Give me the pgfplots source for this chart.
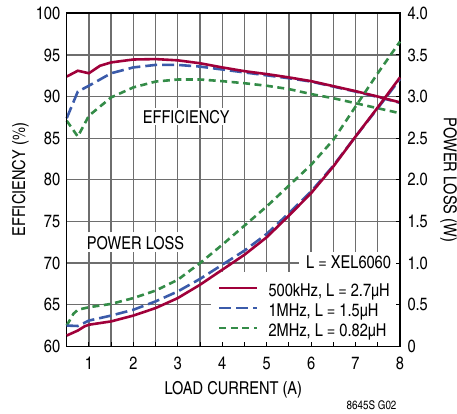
\documentclass[border=0pt]{standalone}
\usepackage{fontspec}
\setmainfont{texgyreheroscn-regular.otf}
\usepackage{pgfplots}
\pgfplotsset{compat=1.18}
\definecolor{c500}{HTML}{A0003A}
\definecolor{c1m}{HTML}{3B5BAA}
\definecolor{c2m}{HTML}{348C48}
\definecolor{gridc}{HTML}{6E6E6E}
\newcommand{\fs}{\fontsize{17.8}{20}\selectfont}
\tikzset{gl/.style={draw=gridc, line width=1.3pt}}

\pgfplotsset{
  common/.style={
    scale only axis, width=333.6pt, height=333.4pt,
    xmin=0.5, xmax=8, clip=false,
    xtick={0.5,1,...,8},
    tick align=inside, major tick length=4pt,
    tick style={black, line width=0.9pt},
    /pgf/number format/assume math mode=true,
    ticklabel style={font=\fs},
    axis line style={line width=1.6pt},
  },
  s500/.style={c500, line width=2.6pt},
  s1m/.style={c1m, line width=2.6pt, dash pattern=on 12pt off 5pt},
  s2m/.style={c2m, line width=2.6pt, dash pattern=on 7pt off 4.5pt},
}

\begin{document}
\begin{tikzpicture}
% efficiency, left axis, with the grid
\begin{axis}[common,
  ymin=60, ymax=100, ytick={60,65,...,100},
  xticklabels={,1,,2,,3,,4,,5,,6,,7,,8},
  ytick pos=left, xtick pos=bottom,
  xticklabel style={yshift=-7pt}, yticklabel style={xshift=-3pt},
]
% grid lines every 0.5 A and every 5 %, broken round the labels and the legend
\pgfplotsinvokeforeach{1,1.5,2}{
  \draw[gl] (axis cs:#1,60) -- (axis cs:#1,71.3);
  \draw[gl] (axis cs:#1,73.7) -- (axis cs:#1,100);
}
\pgfplotsinvokeforeach{2.5,3}{
  \draw[gl] (axis cs:#1,60) -- (axis cs:#1,71.3);
  \draw[gl] (axis cs:#1,73.7) -- (axis cs:#1,86.56);
  \draw[gl] (axis cs:#1,88.64) -- (axis cs:#1,100);
}
\draw[gl] (axis cs:3.5,60) -- (axis cs:3.5,86.56);
\draw[gl] (axis cs:3.5,88.64) -- (axis cs:3.5,100);
\draw[gl] (axis cs:4,68.96) -- (axis cs:4,86.56);
\draw[gl] (axis cs:4,88.64) -- (axis cs:4,100);
\pgfplotsinvokeforeach{4.5,5,5.5}{
  \draw[gl] (axis cs:#1,68.96) -- (axis cs:#1,100);
}
\pgfplotsinvokeforeach{6,6.5,7,7.5}{
  \draw[gl] (axis cs:#1,71.36) -- (axis cs:#1,100);
}
\draw[gl] (axis cs:0.5,65) -- (axis cs:3.747,65);
\draw[gl] (axis cs:0.5,70) -- (axis cs:5.727,70);
\pgfplotsinvokeforeach{75,80,85,90,95}{
  \draw[gl] (axis cs:0.5,#1) -- (axis cs:8,#1);
}
\node[inner sep=0pt, anchor=base west, font=\fs] at (axis cs:2.21,86.8) {EFFICIENCY};
\node[inner sep=0pt, anchor=base west, font=\fs] at (axis cs:0.95,71.6) {POWER LOSS};

\addplot[s2m] coordinates {(0.5,87.1) (0.75,85.2) (1,87.7) (1.5,89.9) (2,91.1) (2.5,91.8) (3,92.05) (3.5,92.05) (4,91.85) (4.5,91.6) (5,91.3) (5.5,90.9) (6,90.3) (6.5,89.8) (7,89.2) (7.5,88.6) (8,88.0)};
\addplot[s1m] coordinates {(0.5,87.4) (0.75,90.6) (1,91.3) (1.5,92.8) (2,93.5) (2.5,93.8) (3,93.8) (3.5,93.6) (4,93.25) (4.5,92.9) (5,92.55) (5.5,92.2) (6,91.8) (6.5,91.2) (7,90.6) (7.5,89.95) (8,89.25)};
\addplot[s500] coordinates {(0.5,92.4) (0.75,93.1) (1.0,92.8) (1.25,93.7) (1.5,94.1) (2,94.45) (2.5,94.5) (3,94.35) (3.5,94.0) (4,93.5) (4.5,93.05) (5,92.7) (5.5,92.3) (6,91.85) (6.5,91.25) (7,90.65) (7.5,90.0) (8,89.3)};

\node[rotate=90, anchor=base, font=\fs] at (axis cs:-0.438,80) {EFFICIENCY (\%)};
\node[anchor=base, font=\fs] at (axis cs:4.25,54.2) {LOAD CURRENT (A)};
\node[anchor=base east, font=\fontsize{12}{14}\selectfont] at (axis cs:8,52.48) {8645S G02};
\coordinate (bl) at (axis cs:-1.0009,51.914);
\coordinate (tr) at (axis cs:9.283,101.596);
\end{axis}

% power loss, right axis
\begin{axis}[common,
  ymin=0, ymax=4, ytick={0,0.5,...,4},
  yticklabels={0,0.5,1.0,1.5,2.0,2.5,3.0,3.5,4.0},
  ytick pos=right, xtick pos=bottom, xticklabels={},
  yticklabel style={xshift=4pt},
  reverse legend,
  legend cell align=left,
  legend image code/.code={\draw[#1] (0pt,8.5pt) -- (38pt,8.5pt);},
  legend style={draw=none, fill=none, at={(axis cs:3.905,0.752)}, anchor=north west,
    inner sep=0pt, outer sep=0pt, row sep=3.8pt, column sep=10pt, font=\fs,
    nodes={inner sep=0pt, text height=12.7pt, text depth=3.5pt, anchor=base west}},
]
\addplot[s2m] coordinates {(0.5,0.25) (0.65,0.39) (0.75,0.44) (1,0.47) (1.5,0.51) (2,0.58) (2.5,0.67) (3,0.80) (3.5,1.0) (4,1.22) (4.5,1.45) (5,1.68) (5.5,1.93) (6,2.18) (6.5,2.48) (7,2.88) (7.5,3.28) (8,3.66)};
\addlegendentry{2MHz, L = 0.82µH}
\addplot[s1m] coordinates {(0.5,0.25) (0.75,0.245) (1,0.31) (1.5,0.37) (2,0.44) (2.5,0.54) (3,0.66) (3.5,0.81) (4,0.98) (4.5,1.15) (5,1.35) (5.5,1.60) (6,1.86) (6.5,2.17) (7,2.52) (7.5,2.86) (8,3.21)};
\addlegendentry{1MHz, L = 1.5µH}
\addplot[s500] coordinates {(0.5,0.13) (0.75,0.19) (0.9,0.24) (1,0.26) (1.5,0.30) (2,0.37) (2.5,0.46) (3,0.58) (3.5,0.74) (4,0.92) (4.5,1.10) (5,1.31) (5.5,1.57) (6,1.84) (6.5,2.16) (7,2.52) (7.5,2.87) (8,3.23)};
\addlegendentry{500kHz, L = 2.7µH}

\node[anchor=base west, font=\fs] at (axis cs:5.81,0.94) {L = XEL6060};
\node[rotate=-90, anchor=base, font=\fs] at (axis cs:8.99,2) {POWER LOSS (W)};
\end{axis}
\pgfresetboundingbox
\path[use as bounding box] (bl) rectangle (tr);
\end{tikzpicture}
\end{document}
